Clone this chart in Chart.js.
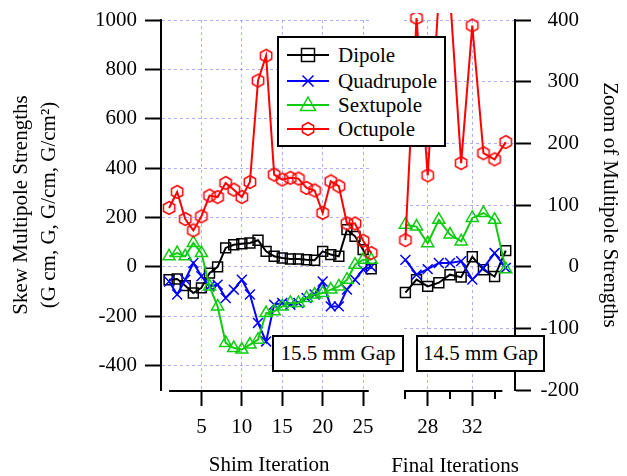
<!DOCTYPE html>
<html><head><meta charset="utf-8">
<script src="https://cdn.jsdelivr.net/npm/chart.js@4.4.1/dist/chart.umd.min.js"></script>
<style>
html,body{margin:0;padding:0;background:#fff;}
#wrap{position:relative;width:627px;height:476px;overflow:hidden;font-family:'Liberation Serif','Times New Roman',serif;}
canvas{position:absolute;top:0;}
#cA{left:0;}
#cB{left:390px;}
.box{position:absolute;border:2px solid #000;background:#fff;font-size:21px;color:#000;text-align:center;box-sizing:border-box;white-space:nowrap;}
.row{position:absolute;left:0;height:24px;line-height:24px;width:160px;}
.row svg{position:absolute;left:8px;top:0;}
.row span{position:absolute;left:59px;top:0;}
.xtitle{position:absolute;font-size:21px;line-height:24px;color:#000;text-align:center;white-space:nowrap;}
</style></head>
<body>
<div id="wrap">
<canvas id="cA" width="390" height="476"></canvas>
<canvas id="cB" width="237" height="476"></canvas>
<div id="legend" class="box" style="left:277px;top:36px;width:169px;height:111px;text-align:left;"></div>
</div>
<script>
// ---------- data ----------
const seriesNames = ['Dipole', 'Quadrupole', 'Sextupole', 'Octupole'];

const shimIter  = [1,2,3,4,5,6,7,8,9,10,11,12,13,14,15,16,17,18,19,20,21,22,23,24,25,26];
const dipoleShim = [-53,-50,-77,-107,-86,-26,-1,76,89,93,96,107,62,42,35,31,31,28,26,62,49,42,150,123,69,-9];
const quadShim   = [-60,-113,-53,15,-39,-80,-73,-127,-93,-53,-113,-228,-303,-154,-147,-154,-147,-127,-113,-60,-161,-161,-93,-53,-12,-1];
const sextShim   = [42,55,42,96,55,-80,-161,-309,-330,-336,-316,-296,-188,-181,-161,-147,-147,-127,-113,-107,-93,-80,-53,8,28,28];
const octShim    = [238,303,193,147,204,288,282,339,312,282,343,754,855,373,353,360,357,319,309,218,346,326,175,175,105,55];

const finalIter   = [26,27,28,29,30,31,32,33,34,35];
const dipoleFinal = [-42,-21,-32,-26,-13,-17,16,-5,-16,26];
const quadFinal   = [11,-13,-4,6,6,9,-21,-2,22,-2];
const sextFinal   = [68,65,38,76,52,41,79,87,76,-4];
const octFinal    = [43,403,148,440,440,168,391,184,174,202];

const leftYTicks   = [-400,-200,0,200,400,600,800,1000];
const rightYTicks  = [-200,-100,0,100,200,300,400];
const shimXTicks   = [5,10,15,20,25];
const finalXTicks  = [28,32];
const finalMinorTicks = [26,30,34];
const shimAxisRange  = [1, 25.7];
const finalAxisRange = [26, 34.7];
const gapLabels = ['15.5 mm Gap', '14.5 mm Gap'];
const xTitles = ['Shim Iteration', 'Final Iterations'];

// ---------- styles ----------
const FONT = "'Liberation Serif','Times New Roman',serif";
Chart.defaults.font.family = FONT;
Chart.defaults.font.size = 21;
Chart.defaults.color = '#000';
const GRID = 'rgba(120,120,255,0.6)';

function hexCanvas(color, size, lw){
  const c = document.createElement('canvas'); c.width = c.height = size;
  const g = c.getContext('2d'); g.strokeStyle = color; g.lineWidth = lw;
  const r = size/2 - lw; g.beginPath();
  for (let i = 0; i < 6; i++){
    const a = Math.PI/3*i - Math.PI/2;
    const x = size/2 + r*Math.cos(a), y = size/2 + r*Math.sin(a);
    if (i) g.lineTo(x, y); else g.moveTo(x, y);
  }
  g.closePath(); g.stroke(); return c;
}
const colors = ['#000000', '#0000ff', '#10cc10', '#ff0000'];
const pointStyles = ['rect', 'crossRot', 'triangle', hexCanvas('#ff0000', 16, 1.5)];
const orders = [4, 3, 2, 1];

function makeDatasets(xs, seriesList){
  return seriesList.map((ys, k) => ({
    label: seriesNames[k],
    data: xs.map((x, i) => ({x: x, y: ys[i]})),
    borderColor: colors[k],
    backgroundColor: 'rgba(0,0,0,0)',
    borderWidth: 2,
    tension: 0,
    pointStyle: pointStyles[k],
    pointRadius: 7,
    pointBorderColor: colors[k],
    pointBorderWidth: 1.5,
    pointBackgroundColor: 'rgba(0,0,0,0)',
    clip: {left: 10, right: 10, top: 7, bottom: 10},
    order: orders[k]
  }));
}

const axisLinePlugin = {
  id: 'axisLine',
  afterDraw(chart, args, opts){
    const ctx = chart.ctx, xs = chart.scales.x, b = chart.chartArea.bottom;
    ctx.save(); ctx.strokeStyle = '#000'; ctx.lineWidth = 2; ctx.setLineDash([]);
    ctx.beginPath();
    ctx.moveTo(xs.getPixelForValue(opts.range[0]), b + 1);
    ctx.lineTo(xs.getPixelForValue(opts.range[1]), b + 1);
    ctx.stroke();
    (opts.minor || []).forEach(v => {
      const px = Math.round(xs.getPixelForValue(v));
      ctx.beginPath(); ctx.moveTo(px, b); ctx.lineTo(px, b + 9); ctx.stroke();
    });
    ctx.restore();
  }
};

function xScale(min, max, tickVals, title){
  return {
    type: 'linear', position: 'bottom', min: min, max: max,
    afterBuildTicks: s => { s.ticks = tickVals.map(v => ({value: v})); },
    afterFit: s => { s.height = 86; s.paddingLeft = 0; s.paddingRight = 0; },
    grid: {color: GRID, lineWidth: 1, drawTicks: true, tickLength: 16, tickWidth: 2, tickColor: '#000'},
    border: {display: false, dash: [3, 3]},
    ticks: {color: '#000', font: {size: 21}, padding: 9, maxRotation: 0, minRotation: 0, autoSkip: false, callback: v => String(v)},
    title: {display: !!title, text: title || '', color: '#000', font: {size: 21, lineHeight: 1}, padding: {top: 0, bottom: 0}}
  };
}

// ---------- left panel ----------
new Chart(document.getElementById('cA'), {
  type: 'line',
  data: {datasets: makeDatasets(shimIter, [dipoleShim, quadShim, sextShim, octShim])},
  options: {
    responsive: false, animation: false, events: [],
    layout: {padding: {top: 20, left: 0, right: 18, bottom: 0}},
    plugins: {legend: {display: false}, tooltip: {enabled: false}, axisLine: {range: shimAxisRange}},
    scales: {
      x: xScale(0, 26.1, shimXTicks, ' ' + xTitles[0]),
      y: {
        type: 'linear', position: 'left', min: -500, max: 1000,
        afterBuildTicks: s => { s.ticks = leftYTicks.map(v => ({value: v})); },
        afterFit: s => { s.width = 161; s.paddingTop = 0; s.paddingBottom = 0; },
        grid: {color: GRID, lineWidth: 1, drawTicks: true, tickLength: 16, tickWidth: 2, tickColor: '#000'},
        border: {display: true, color: '#000', width: 2, dash: [3, 3]},
        ticks: {color: '#000', font: {size: 21}, padding: 8, autoSkip: false, callback: v => String(v)},
        title: {display: true, text: ['Skew Multipole Strengths', '(G cm, G, G/cm, G/cm\u00B2)'], color: '#000', font: {size: 21, lineHeight: 1.35}, padding: {top: 7, bottom: 0}}
      }
    }
  },
  plugins: [axisLinePlugin]
});

// ---------- right panel ----------
new Chart(document.getElementById('cB'), {
  type: 'line',
  data: {datasets: makeDatasets(finalIter, [dipoleFinal, quadFinal, sextFinal, octFinal])},
  options: {
    responsive: false, animation: false, events: [],
    layout: {padding: {top: 20, left: 14, right: 48, bottom: 0}},
    plugins: {legend: {display: false}, tooltip: {enabled: false}, axisLine: {range: finalAxisRange, minor: finalMinorTicks}},
    scales: {
      x: xScale(25.875, 35.83, finalXTicks, null),
      y: {
        type: 'linear', position: 'right', min: -200, max: 400,
        afterBuildTicks: s => { s.ticks = rightYTicks.map(v => ({value: v})); },
        afterFit: s => { s.width = 64; s.paddingTop = 0; s.paddingBottom = 0; },
        grid: {color: c => (c.tick && c.tick.value === -200) ? 'rgba(0,0,0,0)' : GRID, lineWidth: 1, drawTicks: true, tickLength: 16, tickWidth: 2, tickColor: '#000'},
        border: {display: true, color: '#000', width: 2, dash: [3, 3]},
        ticks: {color: '#000', font: {size: 21}, padding: 9, crossAlign: 'far', autoSkip: false, callback: v => String(v)},
        title: {display: true, text: 'Zoom of Multipole Strengths', color: '#000', font: {size: 21, lineHeight: 1.2}, padding: {top: -43.6, bottom: 0}}
      }
    }
  },
  plugins: [axisLinePlugin]
});

// ---------- legend (HTML, real text) ----------
function markerSvg(k){
  const c = colors[k];
  let m = '';
  if (k === 0) m = `<rect x="14.5" y="5.5" width="13" height="13" fill="none" stroke="${c}" stroke-width="1.5"/>`;
  if (k === 1) m = `<path d="M15.5 6.5 L26.5 17.5 M26.5 6.5 L15.5 17.5" stroke="${c}" stroke-width="1.5"/>`;
  if (k === 2) m = `<path d="M21 4 L28.5 17.5 L13.5 17.5 Z" fill="none" stroke="${c}" stroke-width="1.5"/>`;
  if (k === 3) {
    const pts = [];
    for (let i = 0; i < 6; i++){ const a = Math.PI/3*i - Math.PI/2; pts.push((21 + 6.5*Math.cos(a)).toFixed(2) + ',' + (12 + 6.5*Math.sin(a)).toFixed(2)); }
    m = `<polygon points="${pts.join(' ')}" fill="none" stroke="${c}" stroke-width="1.5"/>`;
  }
  return `<svg width="42" height="24" viewBox="0 0 42 24"><line x1="0" y1="12" x2="42" y2="12" stroke="${c}" stroke-width="2"/>${m}</svg>`;
}
const legend = document.getElementById('legend');
const rowCenters = [17, 42.7, 67, 91.3];
seriesNames.forEach((name, k) => {
  const row = document.createElement('div');
  row.className = 'row';
  row.style.top = (rowCenters[k] - 12) + 'px';
  row.innerHTML = markerSvg(k) + '<span>' + name + '</span>';
  legend.appendChild(row);
});

const wrap = document.getElementById('wrap');
// ---------- second x-axis title (wider than its short axis) ----------
const ft = document.createElement('div');
ft.className = 'xtitle';
ft.style.left = '355px'; ft.style.width = '200px'; ft.style.top = '453px';
ft.textContent = xTitles[1];
wrap.appendChild(ft);

// ---------- gap annotation boxes ----------
const gapBoxes = [{left: 272, width: 132}, {left: 416, width: 129}];
gapLabels.forEach((t, i) => {
  const d = document.createElement('div');
  d.className = 'box';
  d.style.left = gapBoxes[i].left + 'px';
  d.style.top = '335px';
  d.style.width = gapBoxes[i].width + 'px';
  d.style.height = '37px';
  d.style.lineHeight = '33px';
  d.textContent = t;
  wrap.appendChild(d);
});
</script>
</body></html>
